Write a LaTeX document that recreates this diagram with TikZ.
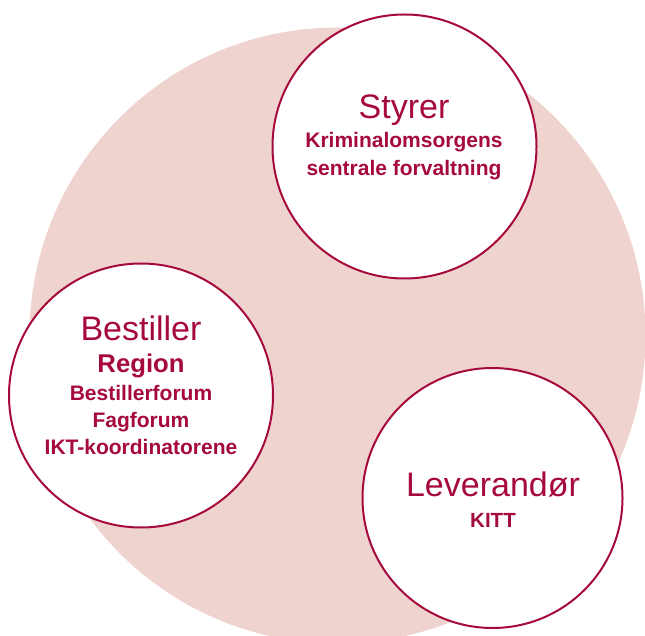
\documentclass[tikz,border=0pt]{standalone}
\usepackage{fontspec}
\setmainfont{Liberation Sans}
\definecolor{wine}{RGB}{166,10,60}
\definecolor{blush}{RGB}{239,211,207}
\tikzset{
  role/.style={circle, draw=wine, line width=2pt, fill=white, inner sep=0pt, minimum size=#1},
  title/.style={anchor=base, text=wine, inner sep=0pt, font=\fontsize{34}{40}\selectfont},
  sub/.style={anchor=base, text=wine, inner sep=0pt, font=\bfseries\fontsize{21}{25}\selectfont},
  subbig/.style={anchor=base, text=wine, inner sep=0pt, font=\bfseries\fontsize{25.7}{30}\selectfont}
}
\begin{document}
\begin{tikzpicture}[x=1pt,y=-1pt]
\useasboundingbox (0,0) rectangle (645,636);
\clip (0,0) rectangle (645,636);
\fill[blush] (337.5,335.5) circle[radius=308];
\node[role=264pt] (sty) at (404.5,146.5) {};
\node[role=264pt] (bes) at (141,395.5) {};
\node[role=260pt] (lev) at (492.5,498) {};
\node[title] (styT) at (404,119) {Styrer};
\node[sub] (styA) at (404,148) {Kriminalomsorgens};
\node[sub] (styB) at (404,176) {sentrale forvaltning};
\node[title] (besT) at (141,340) {Bestiller};
\node[subbig] (besA) at (141,372) {Region};
\node[sub] (besB) at (141,400) {Bestillerforum};
\node[sub] (besC) at (141,427) {Fagforum};
\node[sub] (besD) at (141,454) {IKT-koordinatorene};
\node[title] (levT) at (493,496) {Leverandør};
\node[sub, font=\bfseries\fontsize{20.5}{24}\selectfont] (levA) at (493,527) {KITT};
\end{tikzpicture}
\end{document}
